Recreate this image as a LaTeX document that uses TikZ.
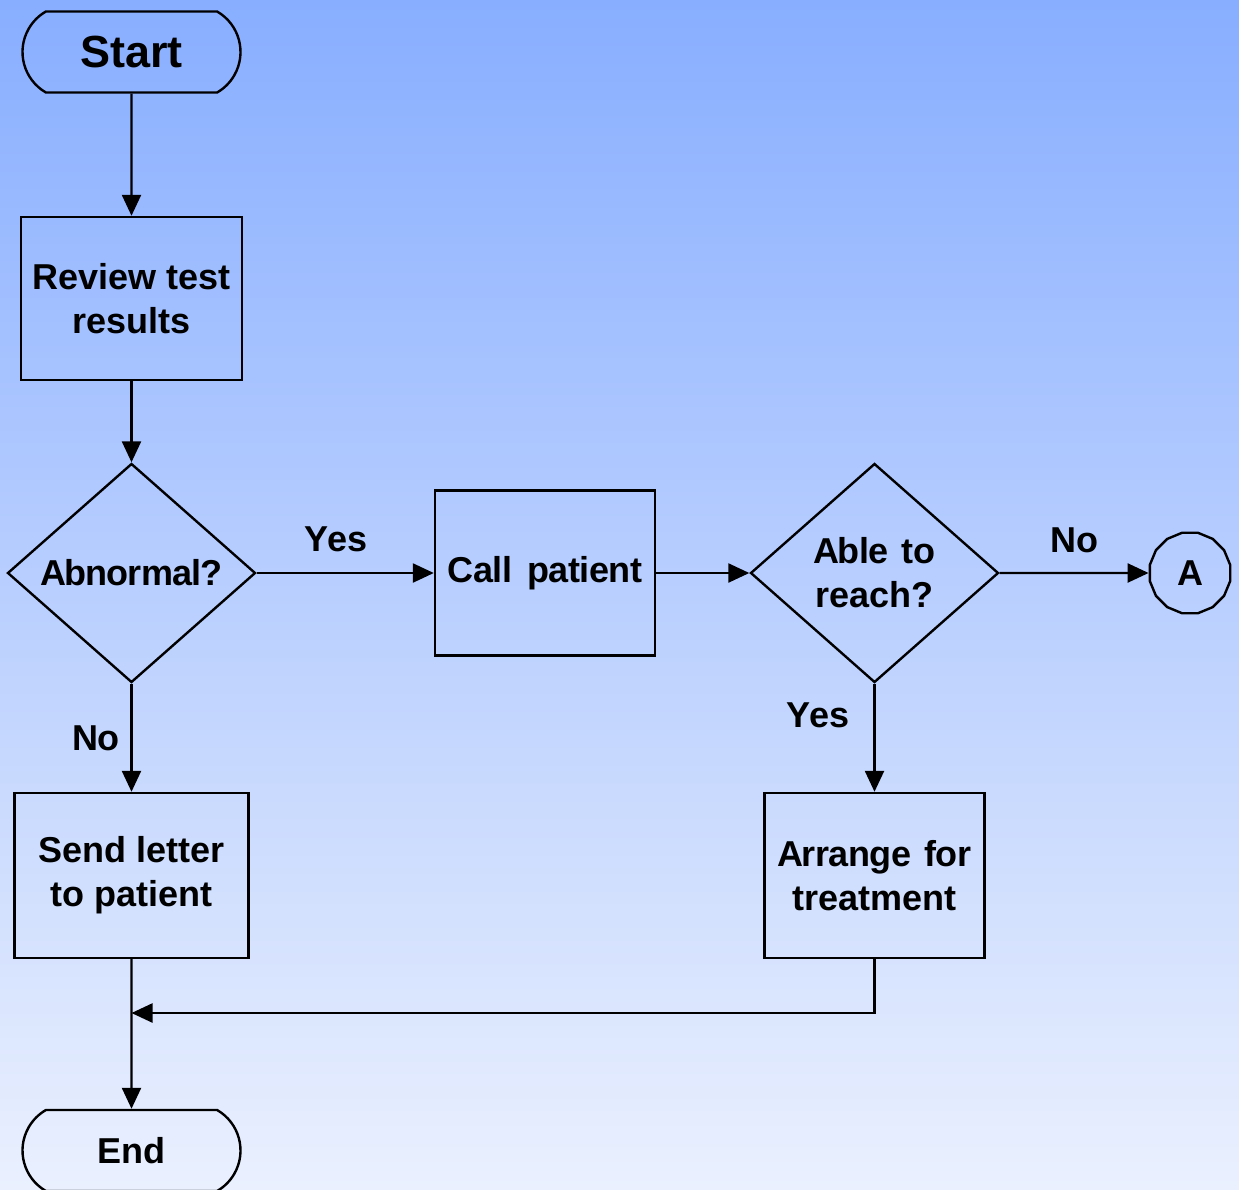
\documentclass[tikz,border=0pt]{standalone}
\usepackage{fontspec}
\setmainfont{Liberation Sans}
\usetikzlibrary{shapes.geometric,shapes.misc,arrows.meta}
\definecolor{bgtop}{RGB}{136,174,255}
\definecolor{bgbot}{RGB}{234,240,254}
\begin{document}
\begin{tikzpicture}[x=1pt,y=-1pt,
  line/.style={line width=2.4pt, draw=black},
  arrow/.style={line, -{Triangle[length=21pt,width=19pt]}},
  txt/.style={font=\fontsize{36}{44}\selectfont\bfseries, align=center, text=black},
  term/.style={txt, line, rounded rectangle, rounded rectangle arc length=120, minimum width=218pt, minimum height=81pt, inner sep=0pt},
  proc/.style={txt, line, rectangle, inner sep=0pt},
  dec/.style={txt, line, diamond, aspect=1.13, minimum width=248pt, minimum height=219pt, inner sep=0pt},
  conn/.style={txt, line, regular polygon, regular polygon sides=16, minimum size=82pt, inner sep=0pt},
  lbl/.style={txt, anchor=base, inner sep=0pt}
]
\shade[top color=bgtop, bottom color=bgbot] (0,0) rectangle (1239,1189);
\useasboundingbox (0,0) rectangle (1239,1189);

\node[term, font=\fontsize{45}{50}\selectfont\bfseries] (start) at (131.5,52) {Start};
\node[proc, minimum width=221pt, minimum height=163pt] (review) at (131.5,298.5) {Review test\\results};
\node[dec] (abn) at (131.5,573) {\addfontfeature{LetterSpace=-2.5}A\kern-2pt bnormal?};
\node[proc, minimum width=220pt, minimum height=165pt] (call) at (545,573) {\addfontfeature{LetterSpace=-1.5}Call\hspace{0.15em} patient};
\node[dec] (able) at (874.5,573) {\addfontfeature{LetterSpace=-1.5}A\kern-2pt ble\hspace{0.1em} to\\reach?};
\node[conn] (conA) at (1190,573) {A};
\node[proc, minimum width=234pt, minimum height=165pt] (send) at (131.5,875.5) {Send letter\\to patient};
\node[proc, minimum width=220pt, minimum height=165pt] (arrange) at (874.5,875.5) {\addfontfeature{LetterSpace=-1.5}A\kern-2pt rrange\hspace{0.1em} for\\treatment};
\node[term] (finish) at (131.5,1150.5) {End};
\coordinate (join) at (131.5,1013);

\node[lbl] (yes1) at (336,551) {Yes};
\node[lbl] (no1) at (1074,552) {No};
\node[lbl] (yes2) at (818,727) {Yes};
\node[lbl] (no2) at (96,750) {No};

\draw[arrow] (start) -- (review);
\draw[arrow] (review) -- (abn);
\draw[arrow] (abn) -- (call);
\draw[arrow] (call) -- (able);
\draw[arrow] (able) -- (conA);
\draw[arrow] (able) -- (arrange);
\draw[arrow] (abn) -- (send);
\draw[arrow] (send) -- (finish);
\draw[arrow] (arrange.south) |- (join);
\end{tikzpicture}
\end{document}
